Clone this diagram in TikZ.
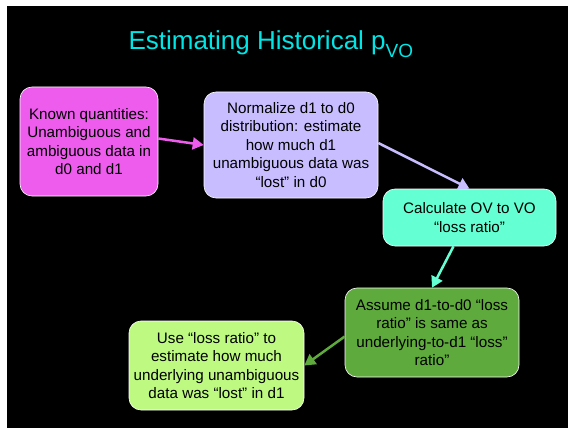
\documentclass[tikz,border=0pt]{standalone}
\usepackage{fontspec}
\setmainfont{Liberation Sans}
\usetikzlibrary{arrows.meta, positioning}

\definecolor{titlecyan}{RGB}{0,230,230}
\definecolor{knownpink}{RGB}{238,92,238}
\definecolor{normlilac}{RGB}{200,190,255}
\definecolor{calcaqua}{RGB}{100,255,210}
\definecolor{assumegreen}{RGB}{95,170,60}
\definecolor{uselime}{RGB}{190,250,130}

\begin{document}
\begin{tikzpicture}[x=1pt, y=-1pt,
    box/.style={draw=white, line width=0.6pt, rounded corners=12pt, align=center,
        inner sep=0pt, font=\fontsize{15.2}{18.5}\selectfont},
    flow/.style={line width=2.5pt, -{Triangle[length=11pt,width=12pt]}}]
    % Achtergrond
    \useasboundingbox (0,0) rectangle (568,428);
    \fill[black] (7,6) rectangle (568,428);

    % Titel
    \node[anchor=base west, text=titlecyan, font=\fontsize{26}{30}\selectfont] (title) at (125,50)
        {Estimating Historical p\raisebox{-0.3em}{\fontsize{19}{19}\selectfont VO}};

    % Stappen
    \node[box, fill=knownpink, minimum width=138pt, minimum height=109pt] (known) at (89,141.5)
        {Known quantities:\\Unambiguous and\\ambiguous data in\\d0 and d1};
    \node[box, fill=normlilac, minimum width=174pt, minimum height=106pt] (normalize) at (291,145)
        {Normalize d1 to d0\\distribution: estimate\\how much d1\\unambiguous data was\\“lost” in d0};
    \node[box, fill=calcaqua, minimum width=173pt, minimum height=57pt] (calc) at (469.5,217.5)
        {Calculate OV to VO\\“loss ratio”};
    \node[box, fill=assumegreen, minimum width=174pt, minimum height=89pt] (assume) at (432,332.5)
        {Assume d1-to-d0 “loss\\ratio” is same as\\underlying-to-d1 “loss”\\ratio”};
    \node[box, fill=uselime, minimum width=175pt, minimum height=89pt] (use) at (216.5,365.5)
        {Use “loss ratio” to\\estimate how much\\underlying unambiguous\\data was “lost” in d1};

    % Pijlen
    \draw[flow, knownpink] ([yshift=3pt]known.east) -- (normalize.west);
    \draw[flow, normlilac] ([yshift=2pt]normalize.east) -- (calc.north);
    \draw[flow, calcaqua] ([xshift=-16pt]calc.south) -- (assume.north);
    \draw[flow, assumegreen] ([yshift=-4pt]assume.west) -- (use.east);
\end{tikzpicture}
\end{document}
